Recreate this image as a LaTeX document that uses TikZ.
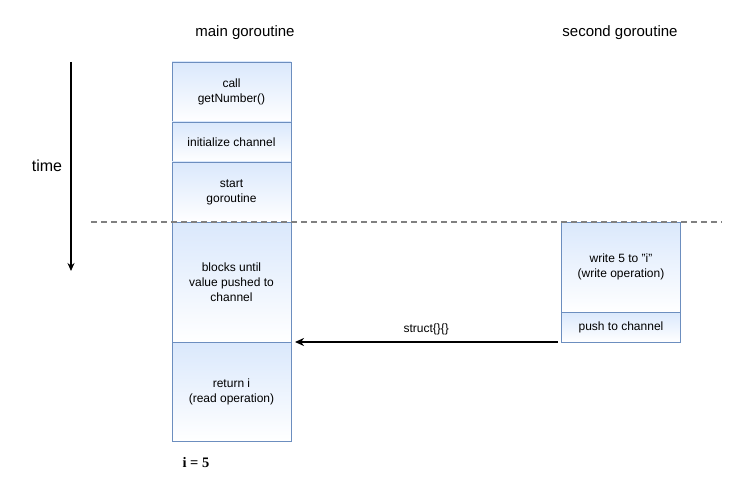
\documentclass[tikz,border=0pt]{standalone}
\usepackage{fontspec}
\setmainfont{Liberation Sans}
\newfontfamily\resultfont{Liberation Serif}
\usetikzlibrary{positioning, arrows.meta}

\definecolor{stepblue}{RGB}{218,232,252}
\definecolor{stepline}{RGB}{108,142,191}

\tikzset{
  stepbox/.style={draw=stepline, line width=0.8pt, top color=stepblue, bottom color=white,
    minimum width=119pt, align=center, font=\fontsize{12}{15}\selectfont, inner sep=0pt, outer sep=0pt},
  title/.style={font=\fontsize{15}{18}\selectfont}
}

\begin{document}
\begin{tikzpicture}[x=1pt, y=-1pt]
\useasboundingbox (0,0) rectangle (755,484);

%% column titles
\node[title] (mainT) at (245,33) {main goroutine};
\node[title] (secT) at (620,33) {second goroutine};

%% main goroutine
\node[stepbox, minimum height=60pt, anchor=north] (call) at (231.5,62) {call\\getNumber()};
\node[stepbox, minimum height=40pt, below=0pt of call] (init) {initialize channel};
\node[stepbox, minimum height=60pt, below=0pt of init] (start) {start\\goroutine};
\node[stepbox, minimum height=120pt, below=0pt of start] (block) {blocks until\\value pushed to\\channel};
\node[stepbox, minimum height=99pt, below=0pt of block] (ret) {return i\\(read operation)};
\node[font=\fontsize{14.5}{16}\selectfont\resultfont\bfseries, anchor=west] (res) at (179,463) {i = 5};

%% second goroutine
\node[stepbox, minimum height=90pt, anchor=north] (write) at (621,222) {write 5 to \symbol{34}i\symbol{34}\\(write operation)};
\node[stepbox, minimum height=30pt, below=0pt of write] (push) {push to channel};

%% time axis
\coordinate (t0) at (71,62);
\coordinate (t1) at (71,271);
\draw[line width=1.5pt, -{Stealth[length=8pt,width=7pt]}] (t0) -- (t1);
\node[font=\fontsize{16}{19}\selectfont] (time) at (47,166) {time};

%% goroutine starts
\coordinate (d0) at (91,222);
\coordinate (d1) at (722,222);
\draw[gray, line width=1.3pt, dash pattern=on 6pt off 4pt] (d0) -- (d1);

%% channel send
\draw[line width=1.6pt, -{Stealth[length=9pt,width=8pt]}] ([xshift=-4pt]push.south west) -- node[above=3pt, font=\fontsize{12}{15}\selectfont] {struct\{\}\{\}} ([xshift=4pt]ret.north east);

\end{tikzpicture}
\end{document}
